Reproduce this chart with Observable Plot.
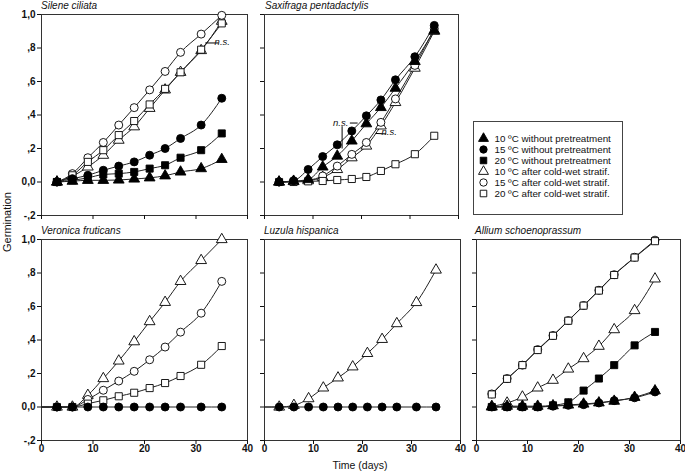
<!DOCTYPE html>
<html><head><meta charset="utf-8">
<script src="https://cdn.jsdelivr.net/npm/d3@7"></script>
<script src="https://cdn.jsdelivr.net/npm/@observablehq/plot@0.6"></script>
<style>
body{margin:0;background:#fff;}
#chart{position:relative;width:685px;height:473px;background:#fff;font-family:"Liberation Sans",Arial,sans-serif;color:#111;overflow:hidden;}
#chart svg{position:absolute;overflow:visible;}
.lbl{position:absolute;white-space:nowrap;line-height:1;}
.title{font-style:italic;font-size:10px;}
</style></head><body><div id="chart"></div>
<script>
// ---------- data ----------
const days = [3, 6, 9, 12, 15, 18, 21, 24, 27, 31, 35];
const seriesNames = [
  "10 ºC without pretreatment",
  "15 ºC without pretreatment",
  "20 ºC without pretreatment",
  "10 ºC after cold-wet stratif.",
  "15 ºC after cold-wet stratif.",
  "20 ºC after cold-wet stratif."
];
const seriesShapes = ["triangle", "circle", "square", "triangle", "circle", "square"];
const seriesFilled = [true, true, true, false, false, false];
const species = ["Silene ciliata", "Saxifraga pentadactylis", "Veronica fruticans", "Luzula hispanica", "Allium schoenoprassum"];
const xTicks = [0, 10, 20, 30, 40];
const yTicks = [-0.2, 0, 0.2, 0.4, 0.6, 0.8, 1.0];
const yTickLabels = ["-,2", "0,0", ",2", ",4", ",6", ",8", "1,0"];

// rows follow seriesNames order; null = series not shown
const silene = [
  [0, 0.005, 0.01, 0.01, 0.012, 0.018, 0.025, 0.037, 0.06, 0.08, 0.135],
  [0, 0.02, 0.04, 0.07, 0.095, 0.12, 0.16, 0.2, 0.26, 0.34, 0.5],
  [0, 0.01, 0.025, 0.045, 0.05, 0.06, 0.08, 0.1, 0.145, 0.19, 0.29],
  [0, 0.035, 0.09, 0.16, 0.25, 0.33, 0.44, 0.55, 0.655, 0.785, 0.96],
  [0, 0.05, 0.145, 0.236, 0.34, 0.444, 0.55, 0.66, 0.774, 0.883, 0.995],
  [0, 0.04, 0.12, 0.19, 0.28, 0.364, 0.463, 0.556, 0.655, 0.79, 0.947]
];
const saxifraga = [
  [0, 0.005, 0.015, 0.09, 0.155, 0.245, 0.348, 0.445, 0.56, 0.72, 0.905],
  [0, 0.008, 0.075, 0.152, 0.222, 0.305, 0.395, 0.49, 0.61, 0.748, 0.935],
  null,
  [0, 0.003, 0.008, 0.028, 0.075, 0.145, 0.215, 0.335, 0.475, 0.68, 0.9],
  [0, 0.003, 0.01, 0.036, 0.095, 0.165, 0.236, 0.356, 0.496, 0.696, 0.915],
  [0, 0, 0.004, 0.006, 0.012, 0.018, 0.03, 0.066, 0.106, 0.166, 0.276]
];
const veronica = [
  null,
  [0, 0, 0, 0, 0, 0, 0, 0, 0, 0, 0],
  null,
  [0, 0, 0.07, 0.17, 0.275, 0.39, 0.51, 0.625, 0.75, 0.875, 1.0],
  [0, 0, 0.045, 0.1, 0.155, 0.213, 0.282, 0.358, 0.447, 0.56, 0.75],
  [0, 0, 0.02, 0.04, 0.064, 0.085, 0.113, 0.143, 0.185, 0.252, 0.364]
];
const luzula = [
  null,
  [0, 0, 0, 0, 0, 0, 0, 0, 0, 0, 0],
  null,
  [0, 0.01, 0.05, 0.114, 0.174, 0.24, 0.32, 0.404, 0.498, 0.624, 0.818],
  null,
  null
];
const allium = [
  [0, 0.005, 0.005, 0.005, 0.008, 0.012, 0.018, 0.025, 0.035, 0.058, 0.097],
  [0, 0, 0, 0, 0.005, 0.01, 0.014, 0.024, 0.038, 0.055, 0.09],
  [0, 0, 0, 0, 0.01, 0.028, 0.098, 0.17, 0.25, 0.368, 0.448],
  [0.004, 0.024, 0.06, 0.114, 0.16, 0.227, 0.289, 0.363, 0.462, 0.576, 0.765],
  [0.078, 0.17, 0.25, 0.343, 0.427, 0.516, 0.606, 0.697, 0.79, 0.894, 0.996],
  [0.075, 0.168, 0.25, 0.34, 0.425, 0.515, 0.605, 0.695, 0.788, 0.892, 0.99]
];
const panelValues = [silene, saxifraga, veronica, luzula, allium];
// fitted curves that start at the origin (day 0, germination 0)
const fitFromOrigin = [false, false, true, true, false];

// "n.s." annotations
const nsLabels = [
  {species: "Silene ciliata", day: 35.1, value: 0.835, anchor: "start"},
  {species: "Saxifraga pentadactylis", day: 15.7, value: 0.355, anchor: "middle"},
  {species: "Saxifraga pentadactylis", day: 25.7, value: 0.297, anchor: "start"}
];
const nsLines = [
  {species: "Silene ciliata", d1: 31.8, v1: 0.83, d2: 34.4, v2: 0.83},
  {species: "Saxifraga pentadactylis", d1: 17.6, v1: 0.352, d2: 19.2, v2: 0.352},
  {species: "Saxifraga pentadactylis", d1: 16.0, v1: 0.333, d2: 16.0, v2: 0.2},
  {species: "Saxifraga pentadactylis", d1: 22.9, v1: 0.29, d2: 25.1, v2: 0.287}
];

// ---------- layout ----------
const layout = [
  {left: 0,   top: 0,   width: 250, height: 230, ml: 41, mr: 3, mt: 14, mb: 15, showY: true,  showX: false},
  {left: 250, top: 0,   width: 215, height: 230, ml: 14, mr: 7, mt: 14, mb: 15, showY: false, showX: false},
  {left: 0,   top: 225, width: 250, height: 245, ml: 41, mr: 3, mt: 14, mb: 30, showY: true,  showX: true},
  {left: 250, top: 225, width: 215, height: 245, ml: 14, mr: 5, mt: 14, mb: 30, showY: false, showX: true},
  {left: 462, top: 225, width: 223, height: 245, ml: 14, mr: 5, mt: 14, mb: 30, showY: false, showX: true}
];
const titlePos = [[41, 1], [265, 1], [41, 226], [264, 226], [475, 226]];
const drawOrder = [3, 4, 5, 2, 0, 1];

const chart = document.getElementById("chart");
const font = '"Liberation Sans", Arial, sans-serif';

species.forEach((sp, p) => {
  const L = layout[p];
  const vals = panelValues[p];
  const lineRows = [];
  const dotRows = [];
  drawOrder.forEach(s => {
    const v = vals[s];
    if (!v) return;
    if (fitFromOrigin[p]) lineRows.push({series: seriesNames[s], day: 0, value: 0});
    days.forEach((d, i) => {
      const row = {series: seriesNames[s], shape: seriesShapes[s], fill: seriesFilled[s] ? "#000" : "#fff", day: d, value: v[i]};
      lineRows.push(row);
      dotRows.push(row);
    });
  });
  const labs = nsLabels.filter(d => d.species === sp);
  const links = nsLines.filter(d => d.species === sp);
  const svg = Plot.plot({
    width: L.width, height: L.height,
    marginLeft: L.ml, marginRight: L.mr, marginTop: L.mt, marginBottom: L.mb,
    style: {background: "transparent", fontFamily: font, fontSize: "10px", color: "#111", overflow: "visible"},
    x: {domain: [0, 40]},
    y: {domain: [-0.2, 1.0]},
    marks: [
      Plot.frame({stroke: "#333", strokeWidth: 1}),
      Plot.axisY({ticks: yTicks, tickSize: 4, tickPadding: 2, fontSize: 10, fontWeight: "bold", label: null,
        tickFormat: L.showY ? (d => yTickLabels[yTicks.findIndex(t => Math.abs(t - d) < 1e-9)]) : (() => "")}),
      Plot.axisX({ticks: xTicks, tickSize: 4, tickPadding: 0, fontSize: 10, fontWeight: "bold", label: null,
        tickFormat: L.showX ? (d => String(d)) : (() => "")}),
      Plot.line(lineRows, {x: "day", y: "value", z: "series", curve: "monotone-x", stroke: "#222", strokeWidth: 1}),
      Plot.link(links, {x1: "d1", y1: "v1", x2: "d2", y2: "v2", stroke: "#000", strokeWidth: 1}),
      Plot.dot(dotRows, {x: "day", y: "value", symbol: "shape", fill: "fill", stroke: "#000", strokeWidth: 0.9, r: 4}),
      Plot.text(labs, {x: "day", y: "value", text: () => "n.s.", textAnchor: "anchor", fontStyle: "italic", fontSize: 9.5, fill: "#111"})
    ]
  });
  svg.style.left = L.left + "px";
  svg.style.top = L.top + "px";
  chart.appendChild(svg);
  const t = document.createElement("div");
  t.className = "lbl title";
  t.textContent = sp;
  t.style.left = titlePos[p][0] + "px";
  t.style.top = titlePos[p][1] + "px";
  chart.appendChild(t);
});

// ---------- legend ----------
const legendRows = seriesNames.map((name, i) => ({name, shape: seriesShapes[i], fill: seriesFilled[i] ? "#000" : "#fff"}));
const legend = Plot.plot({
  width: 151, height: 95, margin: 1,
  style: {background: "transparent", fontFamily: font, color: "#111", overflow: "visible"},
  x: {domain: [0, 1], axis: null},
  y: {type: "point", domain: seriesNames, range: [11, 79.5], axis: null},
  marks: [
    Plot.frame({stroke: "#444", strokeWidth: 1}),
    Plot.dot(legendRows, {y: "name", frameAnchor: "left", dx: 10, symbol: "shape", fill: "fill", stroke: "#000", strokeWidth: 0.9, r: 3.7}),
    Plot.text(legendRows, {y: "name", text: "name", frameAnchor: "left", dx: 21, textAnchor: "start", fontSize: 9.8, fill: "#111"})
  ]
});
legend.style.left = "472px";
legend.style.top = "120px";
chart.appendChild(legend);

// ---------- axis titles ----------
const yl = document.createElement("div");
yl.className = "lbl";
yl.textContent = "Germination";
yl.style.cssText += "left:7px;top:222px;font-size:11px;transform:translate(-50%,-50%) rotate(-90deg);";
chart.appendChild(yl);
const xl = document.createElement("div");
xl.className = "lbl";
xl.textContent = "Time (days)";
xl.style.cssText += "left:360px;top:465px;font-size:10.5px;transform:translate(-50%,-50%);";
chart.appendChild(xl);
</script>
</body></html>
